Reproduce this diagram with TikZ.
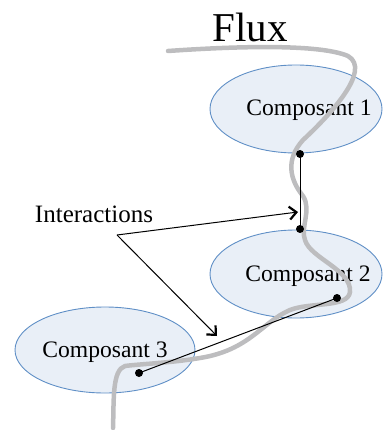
\documentclass[tikz,border=0pt]{standalone}
\usepackage{fontspec}
\setmainfont{Liberation Serif}
\usetikzlibrary{arrows.meta,shapes.geometric}
\definecolor{compfill}{HTML}{E9EFF7}
\definecolor{compedge}{HTML}{5F8FC6}
\definecolor{fluxgray}{HTML}{BDBDBF}
\begin{document}
\begin{tikzpicture}[x=1pt,y=-1pt,
  comp/.style={ellipse,draw=compedge,fill=compfill,line width=0.9pt,inner sep=0pt},
  lbl/.style={font=\fontsize{23.6}{26}\selectfont},
  pt/.style={circle,fill=black,inner sep=0pt,minimum size=8pt},
  arr/.style={-{Straight Barb[line width=2.2pt,length=7pt,width=13pt]},line width=1pt}]
\useasboundingbox (0,0) rectangle (382,430);
% composants
\node[comp,minimum width=172pt,minimum height=88pt] (e1) at (296,109) {};
\node[comp,minimum width=172pt,minimum height=88pt] (e2) at (296,274) {};
\node[comp,minimum width=180pt,minimum height=86pt] (e3) at (105,350) {};
\node[lbl] (c1) at (309,110) {Composant 1};
\node[lbl] (c2) at (308,276) {Composant 2};
\node[lbl] (c3) at (105,352) {Composant 3};
% flux
\draw[fluxgray,line width=4.5pt,line cap=round]
  (168,51) .. controls (240,46) and (320,44) .. (348,56)
  .. controls (372,70) and (330,115) .. (303,140)
  .. controls (285,160) and (290,180) .. (303,196)
  .. controls (312,210) and (300,228) .. (305,240)
  .. controls (310,258) and (352,270) .. (350,292)
  .. controls (348,308) and (310,302) .. (290,310)
  .. controls (262,322) and (250,350) .. (200,358)
  .. controls (170,363) and (140,364) .. (125,366)
  .. controls (112,370) and (114,400) .. (113,428);
\node[font=\fontsize{41}{44}\selectfont] (flux) at (250,27) {Flux};
% interactions
\node[pt] (p1) at (300,154) {};
\node[pt] (p2) at (300,229) {};
\node[pt] (p3) at (337,298) {};
\node[pt] (p4) at (139,373) {};
\draw[line width=1pt] (p1.center) -- (p2.center);
\draw[line width=1pt] (p3.center) -- (p4.center);
\node[font=\fontsize{25}{28}\selectfont] (inter) at (94,214) {Interactions};
\coordinate (fork) at (117,235);
\coordinate (hit1) at (298,212);
\coordinate (hit2) at (217,336);
\draw[arr] (fork) -- (hit1);
\draw[arr] (fork) -- (hit2);
\end{tikzpicture}
\end{document}
